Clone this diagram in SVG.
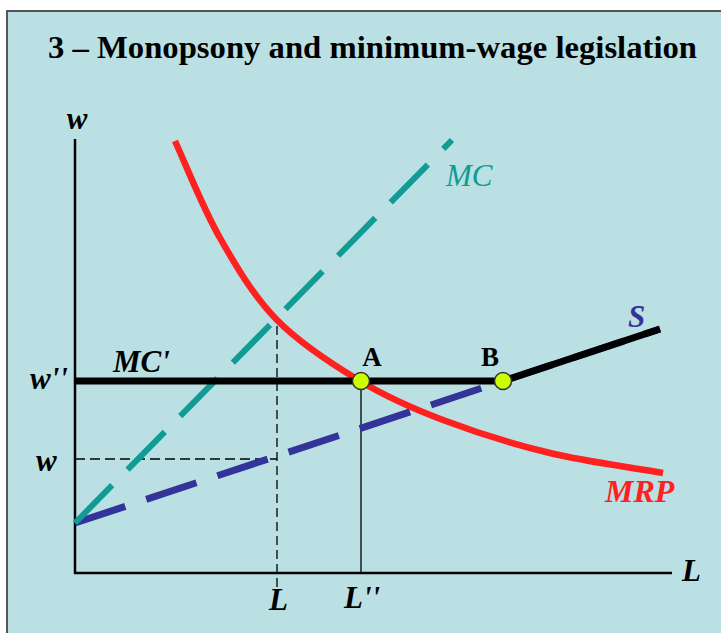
<svg xmlns="http://www.w3.org/2000/svg" width="721" height="633" viewBox="0 0 721 633">
<style>
.lbl{font-family:"Liberation Serif","Times New Roman",serif;font-style:italic;font-weight:bold;font-size:31px;fill:#000}
.pt{font-family:"Liberation Serif","Times New Roman",serif;font-weight:bold;font-size:27px;fill:#000}
.dot{fill:#CCFF00;stroke:#333;stroke-width:1.5}
</style>
<rect x="0" y="0" width="721" height="633" fill="#fff"/>
<rect x="7" y="11" width="720" height="630" fill="#BBE0E3" stroke="#555" stroke-width="2"/>
<text x="48" y="58" font-family="Liberation Serif, Times New Roman, serif" font-weight="bold" font-size="31" textLength="649" lengthAdjust="spacingAndGlyphs">3 – Monopsony and minimum-wage legislation</text>

<g id="axes" stroke="#000" stroke-width="2.5" fill="none">
<line x1="75" y1="139" x2="75" y2="574"/>
<line x1="74" y1="573" x2="672" y2="573"/>
</g>

<g id="guides" stroke="#000" fill="none">
<line x1="277" y1="326" x2="277" y2="592" stroke-width="1.3" stroke-dasharray="9,5"/>
<line x1="75" y1="459" x2="277" y2="459" stroke-width="1.3" stroke-dasharray="10,5"/>
<line x1="361" y1="381" x2="361" y2="573" stroke-width="1.3"/>
</g>

<g id="connectors">
<line id="S" x1="75" y1="523" x2="660" y2="329" stroke="#333399" stroke-width="7" stroke-dasharray="53,22"/>
<line id="MC" x1="75" y1="523" x2="452" y2="140" stroke="#109C94" stroke-width="6" stroke-dasharray="53,22"/>
<path id="MRP" d="M175,141 C190,174.3 203,208.2 220,238 C237,267.8 253.7,296.2 277,320 C300.3,343.8 332.3,364.3 360,381 C387.7,397.7 411.3,408 443,420 C474.7,432 513.3,444.2 550,453 C586.7,461.8 625.3,466.3 663,473" fill="none" stroke="#FF2020" stroke-width="6.5"/>
<polyline id="MCprime" points="75,381 503,381 660,329" fill="none" stroke="#000" stroke-width="7"/>
</g>

<g id="pointA"><circle class="dot" cx="361" cy="381" r="8.5"/><text class="pt" x="372" y="366" text-anchor="middle">A</text></g>
<g id="pointB"><circle class="dot" cx="503" cy="381" r="8.5"/><text class="pt" x="490" y="366" text-anchor="middle">B</text></g>

<g id="labels">
<text class="lbl" x="77" y="129" text-anchor="middle">w</text>
<text class="lbl" x="30" y="389">w''</text>
<text class="lbl" x="36" y="471">w</text>
<text class="lbl" x="113" y="372">MC'</text>
<text class="lbl" x="628" y="327" style="fill:#333399">S</text>
<text class="lbl" x="446" y="186" style="fill:#109C94;font-weight:normal">MC</text>
<text class="lbl" x="605" y="502" style="fill:#FF2020;font-size:32px">MRP</text>
<text class="lbl" x="682" y="581">L</text>
<text class="lbl" x="269" y="610">L</text>
<text class="lbl" x="344" y="608">L''</text>
</g>
</svg>
